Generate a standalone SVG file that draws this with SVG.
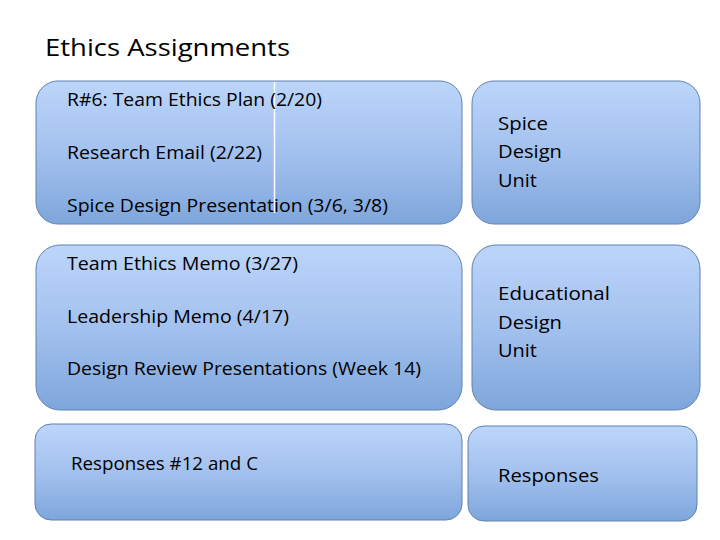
<svg xmlns="http://www.w3.org/2000/svg" width="720" height="540" viewBox="0 0 720 540">
<defs>
<linearGradient id="g" x1="0" y1="0" x2="0" y2="1">
<stop offset="0" stop-color="#bcd5fa"/>
<stop offset="0.5" stop-color="#a3c1ee"/>
<stop offset="1" stop-color="#7ea6db"/>
</linearGradient>
<style>
.box{fill:url(#g);stroke:#5f82ad;stroke-width:1}
.t{font-family:"Open Sans","Liberation Sans",sans-serif;font-size:18px;fill:#000}
.h{font-family:"Open Sans","Liberation Sans",sans-serif;font-size:23px;fill:#000}
</style>
</defs>
<rect width="720" height="540" fill="#fff"/>
<text class="h" x="45" y="56" textLength="245" lengthAdjust="spacingAndGlyphs">Ethics Assignments</text>
<g id="row1-left">
<rect class="box" x="36" y="81" width="426" height="143" rx="22"/>
<line x1="274.5" y1="82" x2="274.5" y2="213" stroke="#fff" stroke-width="1.5"/>
<text class="t" x="67" y="106" textLength="255" lengthAdjust="spacingAndGlyphs">R#6: Team Ethics Plan (2/20)</text>
<text class="t" x="67" y="159" textLength="195" lengthAdjust="spacingAndGlyphs">Research Email (2/22)</text>
<text class="t" x="67" y="212" textLength="321" lengthAdjust="spacingAndGlyphs">Spice Design Presentation (3/6, 3/8)</text>
</g>
<g id="row1-right">
<rect class="box" x="472" y="81" width="228" height="143" rx="22"/>
<text class="t" x="498" y="130" textLength="50" lengthAdjust="spacingAndGlyphs">Spice</text>
<text class="t" x="498" y="158" textLength="64" lengthAdjust="spacingAndGlyphs">Design</text>
<text class="t" x="498" y="187" textLength="39" lengthAdjust="spacingAndGlyphs">Unit</text>
</g>
<g id="row2-left">
<rect class="box" x="36" y="245" width="426" height="165" rx="24"/>
<text class="t" x="67" y="270" textLength="231" lengthAdjust="spacingAndGlyphs">Team Ethics Memo (3/27)</text>
<text class="t" x="67" y="323" textLength="222" lengthAdjust="spacingAndGlyphs">Leadership Memo (4/17)</text>
<text class="t" x="67" y="375" textLength="354" lengthAdjust="spacingAndGlyphs">Design Review Presentations (Week 14)</text>
</g>
<g id="row2-right">
<rect class="box" x="472" y="245" width="228" height="165" rx="24"/>
<text class="t" x="498" y="300" textLength="112" lengthAdjust="spacingAndGlyphs">Educational</text>
<text class="t" x="498" y="329" textLength="64" lengthAdjust="spacingAndGlyphs">Design</text>
<text class="t" x="498" y="357" textLength="39" lengthAdjust="spacingAndGlyphs">Unit</text>
</g>
<g id="row3-left">
<rect class="box" x="35" y="424" width="427" height="96" rx="16"/>
<text class="t" x="71" y="470" textLength="187" lengthAdjust="spacingAndGlyphs">Responses #12 and C</text>
</g>
<g id="row3-right">
<rect class="box" x="468" y="426" width="229" height="95" rx="16"/>
<text class="t" x="498" y="482" textLength="101" lengthAdjust="spacingAndGlyphs">Responses</text>
</g>
<g id="connectors"/>
</svg>
